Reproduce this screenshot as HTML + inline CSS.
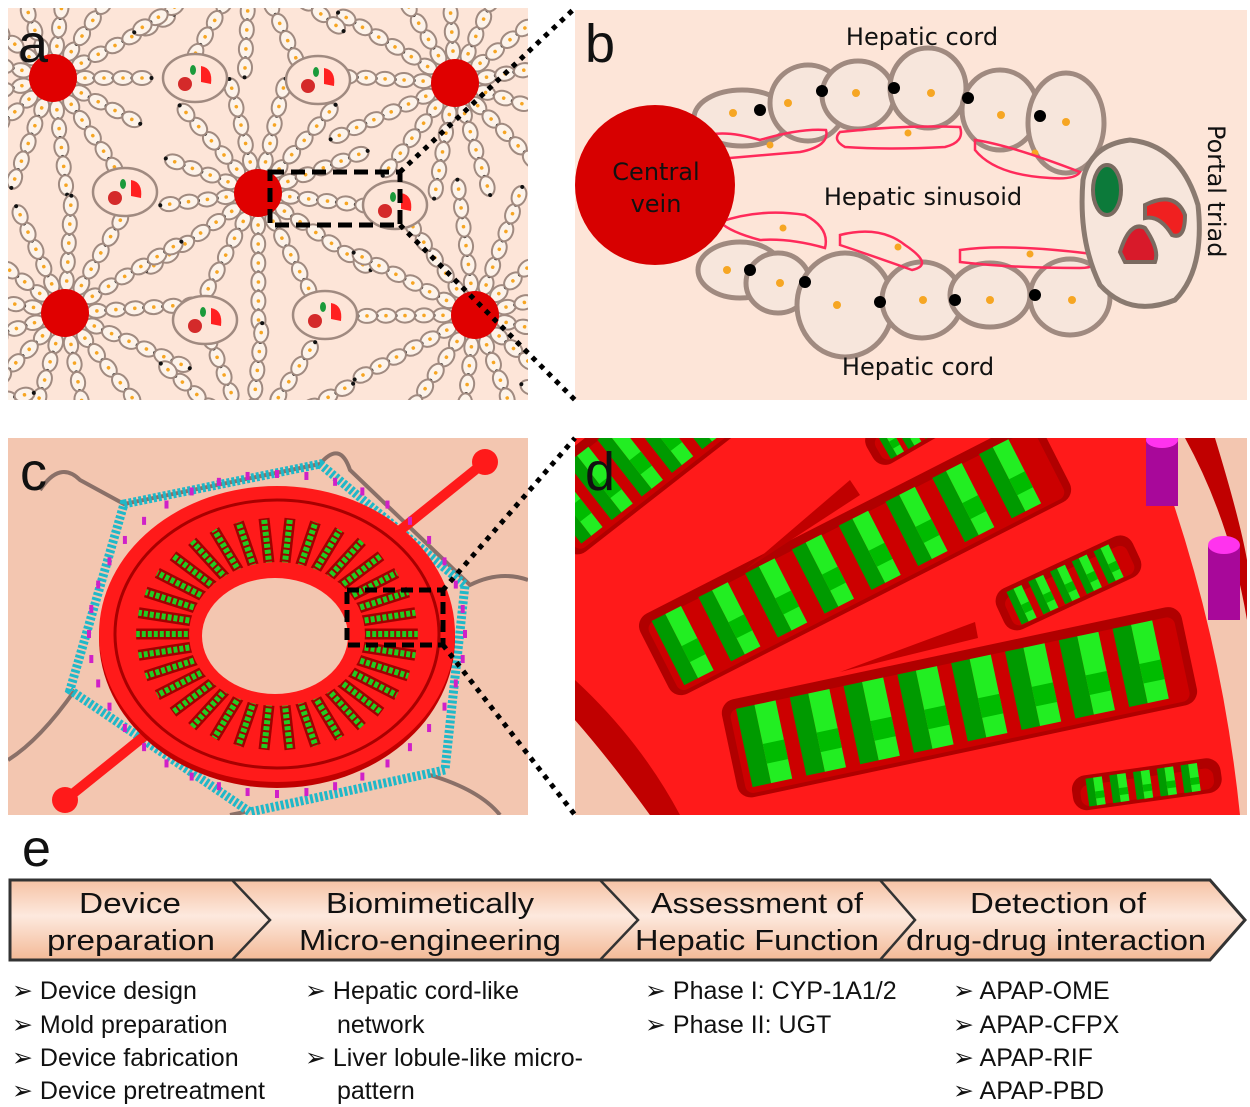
<!DOCTYPE html>
<html><head><meta charset="utf-8">
<style>
html,body{margin:0;padding:0;background:#fff;width:1250px;height:1107px;overflow:hidden}
svg{display:block}
.t{font-family:"Liberation Sans",sans-serif;fill:#111}
.c{font-family:"DejaVu Sans","Liberation Sans",sans-serif;fill:#111}
</style></head><body>
<svg id="s" width="1250" height="1107" viewBox="0 0 1250 1107" xmlns="http://www.w3.org/2000/svg">
<defs>
<linearGradient id="bar" x1="0" y1="0" x2="0" y2="1">
<stop offset="0" stop-color="#f6c2a4"/><stop offset="0.45" stop-color="#fde9de"/><stop offset="1" stop-color="#f3b996"/>
</linearGradient>
<clipPath id="ca"><rect x="8" y="8" width="520" height="392"/></clipPath>
<clipPath id="cc"><rect x="8" y="438" width="520" height="377"/></clipPath>
<clipPath id="cd"><rect x="575" y="438" width="672" height="377"/></clipPath>
</defs>
<rect x="8" y="8" width="520" height="392" fill="#fde5d8"/>
<g id="ga" clip-path="url(#ca)"></g>
<text x="18" y="62" class="t" font-size="54">a</text>
<rect x="270" y="172" width="130" height="53" fill="none" stroke="#000" stroke-width="5" stroke-dasharray="14,7"/>
<rect x="575" y="10" width="672" height="390" fill="#fde5d8"/>
<g fill="#f7e6dc" stroke="#a08a80" stroke-width="5">
<ellipse cx="742" cy="118" rx="48" ry="28"/>
<ellipse cx="808" cy="103" rx="38" ry="38"/>
<ellipse cx="858" cy="95" rx="36" ry="34"/>
<ellipse cx="928" cy="88" rx="38" ry="40"/>
<ellipse cx="1000" cy="110" rx="38" ry="40"/>
<ellipse cx="1066" cy="123" rx="38" ry="50"/>
<ellipse cx="740" cy="270" rx="42" ry="28"/>
<ellipse cx="778" cy="283" rx="32" ry="30"/>
<ellipse cx="845" cy="305" rx="48" ry="52"/>
<ellipse cx="922" cy="300" rx="40" ry="38"/>
<ellipse cx="990" cy="295" rx="40" ry="32"/>
<ellipse cx="1070" cy="297" rx="40" ry="38"/>
</g>
<g fill="#000">
<circle cx="760" cy="110" r="6"/><circle cx="822" cy="91" r="6"/><circle cx="894" cy="88" r="6"/><circle cx="968" cy="98" r="6"/><circle cx="1040" cy="116" r="6"/>
<circle cx="750" cy="270" r="6"/><circle cx="805" cy="282" r="6"/><circle cx="880" cy="302" r="6"/><circle cx="955" cy="300" r="6"/><circle cx="1035" cy="295" r="6"/>
</g>
<g fill="#f6a623">
<circle cx="733" cy="113" r="4"/><circle cx="788" cy="103" r="4"/><circle cx="856" cy="93" r="4"/><circle cx="931" cy="93" r="4"/><circle cx="1001" cy="115" r="4"/><circle cx="1066" cy="122" r="4"/>
<circle cx="727" cy="270" r="4"/><circle cx="780" cy="283" r="4"/><circle cx="837" cy="305" r="4"/><circle cx="923" cy="300" r="4"/><circle cx="990" cy="300" r="4"/><circle cx="1072" cy="300" r="4"/>
<circle cx="770" cy="145" r="3.5"/><circle cx="908" cy="133" r="3.5"/><circle cx="1035" cy="153" r="3.5"/><circle cx="783" cy="228" r="3.5"/><circle cx="898" cy="247" r="3.5"/><circle cx="1030" cy="254" r="3.5"/>
</g>
<g fill="none" stroke="#ff2a5a" stroke-width="2.5">
<path d="M700 138 Q720 128 760 140 Q800 128 826 130 Q830 146 800 152 L730 158 Q710 152 700 138Z"/>
<path d="M840 132 Q900 125 960 127 Q965 142 945 147 Q890 150 845 147 Q832 140 840 132Z"/>
<path d="M975 140 Q1010 145 1080 172 Q1075 180 1050 178 Q995 175 975 150Z"/>
<path d="M720 222 Q760 208 805 215 Q830 228 825 248 Q790 238 760 240 Q730 232 720 222Z"/>
<path d="M840 235 Q880 225 905 245 Q935 265 912 270 Q870 255 840 245Z"/>
<path d="M960 250 Q1010 243 1100 255 Q1100 268 1080 268 Q1010 268 960 262Z"/>
</g>
<circle cx="655" cy="185" r="80" fill="#d70000"/>
<text x="656" y="180" class="c" font-size="24" text-anchor="middle" fill="#200">Central</text>
<text x="656" y="212" class="c" font-size="24" text-anchor="middle" fill="#200">vein</text>
<text x="922" y="45" class="c" font-size="24" text-anchor="middle">Hepatic cord</text>
<text x="923" y="205" class="c" font-size="24" text-anchor="middle">Hepatic sinusoid</text>
<text x="918" y="375" class="c" font-size="24" text-anchor="middle">Hepatic cord</text>
<text transform="translate(1208,125) rotate(90)" class="c" font-size="24">Portal triad</text>
<path d="M1083 180 Q1090 145 1130 140 Q1180 145 1198 205 Q1205 270 1175 300 Q1130 318 1100 285 Q1078 240 1083 180Z" fill="#f7e6dc" stroke="#8a7a70" stroke-width="5"/>
<ellipse cx="1107" cy="190" rx="14" ry="25" fill="#0c7a3a" stroke="#7a6a60" stroke-width="4"/>
<path d="M1145 205 Q1175 190 1185 215 Q1185 240 1172 235 Q1160 215 1145 218Z" fill="#f02020" stroke="#7a6a60" stroke-width="4"/>
<path d="M1120 252 Q1130 220 1145 228 Q1160 250 1155 262 L1125 262Z" fill="#d81a2a" stroke="#7a6a60" stroke-width="4"/>
<text x="585" y="62" class="t" font-size="54">b</text>
<line x1="400" y1="172" x2="575" y2="8" stroke="#000" stroke-width="5" stroke-dasharray="5,6"/>
<line x1="400" y1="225" x2="575" y2="400" stroke="#000" stroke-width="5" stroke-dasharray="5,6"/>
<rect x="8" y="438" width="520" height="377" fill="#f3c6b0"/>
<g id="gc" clip-path="url(#cc)"></g>
<text x="20" y="490" class="t" font-size="54">c</text>
<rect x="347" y="590" width="96" height="55" fill="none" stroke="#000" stroke-width="5" stroke-dasharray="12,6"/>
<g clip-path="url(#cd)">
<rect x="575" y="438" width="672" height="377" fill="#ff1a1a"/>
<path d="M575 720 Q610 760 650 815 L575 815Z" fill="#f3c6b0"/>
<path d="M575 680 Q640 740 680 815 L650 815 Q610 760 575 720Z" fill="#c00000"/>
<path d="M1150 438 L1247 438 L1247 815 L1240 815 Q1220 620 1150 438Z" fill="#f3c6b0"/>
<path d="M1185 438 L1215 438 Q1240 520 1247 560 L1247 620 Q1230 520 1185 438Z" fill="#c00000"/>
<g id="gd"></g>
<rect x="1146" y="438" width="32" height="68" fill="#a8089a"/><ellipse cx="1162" cy="440" rx="16" ry="8" fill="#ff33ee"/>
<rect x="1208" y="545" width="32" height="75" fill="#a8089a"/><ellipse cx="1224" cy="545" rx="16" ry="9" fill="#ff33ee"/>
</g>
<text x="585" y="490" class="t" font-size="54">d</text>
<line x1="443" y1="590" x2="575" y2="438" stroke="#000" stroke-width="5" stroke-dasharray="5,6"/>
<line x1="443" y1="645" x2="575" y2="815" stroke="#000" stroke-width="5" stroke-dasharray="5,6"/>
<text x="22" y="866" class="t" font-size="52">e</text>
<path d="M10 880 L1210 880 L1245 920 L1210 960 L10 960Z" fill="url(#bar)" stroke="#333" stroke-width="3"/>
<g fill="none" stroke="#333" stroke-width="2.5">
<path d="M232 880 L270 920 L232 960"/><path d="M600 880 L638 920 L600 960"/><path d="M880 880 L915 920 L880 960"/>
</g>
<g class="t" font-size="29" text-anchor="middle">
<text x="130" y="913" textLength="102" lengthAdjust="spacingAndGlyphs">Device</text>
<text x="131" y="950" textLength="168" lengthAdjust="spacingAndGlyphs">preparation</text>
<text x="430" y="913" textLength="208" lengthAdjust="spacingAndGlyphs">Biomimetically</text>
<text x="430" y="950" textLength="262" lengthAdjust="spacingAndGlyphs">Micro-engineering</text>
<text x="757" y="913" textLength="212" lengthAdjust="spacingAndGlyphs">Assessment of</text>
<text x="757" y="950" textLength="244" lengthAdjust="spacingAndGlyphs">Hepatic Function</text>
<text x="1058" y="913" textLength="176" lengthAdjust="spacingAndGlyphs">Detection of</text>
<text x="1056" y="950" textLength="300" lengthAdjust="spacingAndGlyphs">drug-drug interaction</text>
</g>
<g class="t" font-size="25">
<text x="12" y="999">➢ Device design</text>
<text x="12" y="1033">➢ Mold preparation</text>
<text x="12" y="1066">➢ Device fabrication</text>
<text x="12" y="1099">➢ Device pretreatment</text>
<text x="305" y="999">➢ Hepatic cord-like</text>
<text x="337" y="1033">network</text>
<text x="305" y="1066">➢ Liver lobule-like micro-</text>
<text x="337" y="1099">pattern</text>
<text x="645" y="999">➢ Phase I: CYP-1A1/2</text>
<text x="645" y="1033">➢ Phase II:  UGT</text>
<text x="953" y="999">➢ APAP-OME</text>
<text x="953" y="1033">➢ APAP-CFPX</text>
<text x="953" y="1066">➢ APAP-RIF</text>
<text x="953" y="1099">➢ APAP-PBD</text>
</g>
</svg>
<script>
var NS="http://www.w3.org/2000/svg";
function el(p,n,a){var e=document.createElementNS(NS,n);for(var k in a)e.setAttribute(k,a[k]);p.appendChild(e);return e;}
var ga=document.getElementById('ga');
var centers=[[53,78],[455,83],[258,193],[65,313],[475,315],[-120,200],[660,200],[250,-40],[250,440],[-100,420],[650,430]];
centers.forEach(function(c,ci){
 for(var i=0;i<13;i++){
  var ang=i*Math.PI*2/13+ci*0.3;
  var len=105+((i*37+ci*13)%35);
  for(var d=32;d<len;d+=19){
   var x=c[0]+Math.cos(ang)*d,y=c[1]+Math.sin(ang)*d;
   var g=el(ga,'g',{transform:'translate('+x.toFixed(1)+','+y.toFixed(1)+') rotate('+(ang*180/Math.PI).toFixed(1)+')'});
   el(g,'ellipse',{rx:10,ry:7,fill:'#fdf3ea',stroke:'#a08a80','stroke-width':2});
   el(g,'circle',{r:1.8,fill:'#f6a623'});
   el(g,'circle',{cx:9.5,r:2,fill:'#111'});
  }
 }
});
[[195,78],[318,80],[125,192],[395,205],[205,320],[325,315]].forEach(function(p){
 el(ga,'ellipse',{cx:p[0],cy:p[1],rx:32,ry:24,fill:'#fde5d8',stroke:'#a08a80','stroke-width':2.5});
 el(ga,'circle',{cx:p[0]-10,cy:p[1]+6,r:7,fill:'#d42a2a'});
 el(ga,'path',{d:'M'+(p[0]+6)+' '+(p[1]-12)+' q12 2 10 18 l-10 -2z',fill:'#ff2020'});
 el(ga,'ellipse',{cx:p[0]-2,cy:p[1]-8,rx:3,ry:5,fill:'#1a9a3a'});
});
centers.slice(0,5).forEach(function(c){el(ga,'circle',{cx:c[0],cy:c[1],r:24,fill:'#e00000'});});
var gc=document.getElementById('gc');
el(gc,'path',{d:'M40 490 Q60 460 80 480 L124 504 L320 464 Q340 440 350 470 L470 585 Q500 570 528 580 M8 760 Q40 740 75 690 M430 775 Q480 790 500 815 M230 815 L245 812',fill:'none',stroke:'#8a7068','stroke-width':4});
el(gc,'polygon',{points:'124,504 320,464 465,585 445,770 250,812 70,690',fill:'none',stroke:'#20b8c8','stroke-width':9,'stroke-dasharray':'3,2'});
el(gc,'line',{x1:485,y1:462,x2:65,y2:800,stroke:'#ff1a1a','stroke-width':10});
el(gc,'circle',{cx:485,cy:462,r:13,fill:'#ff1a1a'});
el(gc,'circle',{cx:65,cy:800,r:13,fill:'#ff1a1a'});
var cx=277,cy=634;
for(var i=0;i<40;i++){var a=i*Math.PI*2/40;el(gc,'rect',{x:cx+Math.cos(a)*188-2,y:cy+Math.sin(a)*160-4,width:4,height:8,fill:'#d020c8'});}
el(gc,'ellipse',{cx:cx,cy:cy+4,rx:178,ry:150,fill:'#c00000'});
el(gc,'ellipse',{cx:cx,cy:cy,rx:178,ry:148,fill:'#ff1a1a'});
el(gc,'ellipse',{cx:cx,cy:cy,rx:162,ry:134,fill:'none',stroke:'#a80000','stroke-width':3});
for(var i=0;i<34;i++){
 var a=i*Math.PI*2/34, ca=Math.cos(a), sa=Math.sin(a);
 var x1=cx+ca*160*0.52, y1=cy+sa*132*0.52, x2=cx+ca*160*0.88, y2=cy+sa*132*0.88;
 el(gc,'line',{x1:x1,y1:y1,x2:x2,y2:y2,stroke:'#a00000','stroke-width':11});
 el(gc,'line',{x1:x1,y1:y1,x2:x2,y2:y2,stroke:'#22cc22','stroke-width':6,'stroke-dasharray':'4,2'});
}
el(gc,'ellipse',{cx:cx,cy:cy,rx:88,ry:72,fill:'#ff1a1a'});
el(gc,'ellipse',{cx:cx-2,cy:cy+2,rx:73,ry:58,fill:'#f3c6b0'});
var gd=document.getElementById('gd');
function slot(x,y,len,h,ang,n,sz){
 var g=el(gd,'g',{transform:'translate('+x+','+y+') rotate('+ang+')'});
 el(g,'rect',{x:0,y:-h,width:len,height:h,rx:14,fill:'#b00000'});
 el(g,'rect',{x:8,y:-h+10,width:len-16,height:h-14,rx:8,fill:'#cc0000'});
 var step=(len-30)/n;
 for(var k=0;k<n;k++){
  var bx=15+k*step;
  el(g,'rect',{x:bx,y:-h*0.9,width:sz*0.35,height:h*0.8,fill:'#009a00'});
  el(g,'rect',{x:bx+sz*0.35,y:-h*0.9,width:sz*0.4,height:h*0.8,fill:'#22ee22'});
  el(g,'rect',{x:bx+sz*0.35,y:-h*0.5,width:sz*0.4,height:h*0.2,fill:'#00bb00'});
 }
}
slot(575,560,260,90,-38,6,36);
slot(675,700,450,90,-27,8,44);
slot(740,800,470,100,-12,8,54);
slot(1010,635,150,45,-25,5,22);
slot(1075,812,150,35,-8,5,22);
slot(880,470,90,40,-30,3,20);
el(gd,'path',{d:'M745 570 L850 480 L860 495 Z',fill:'#c00000'});
el(gd,'path',{d:'M840 672 L975 622 L978 638 Z',fill:'#c00000'});
</script>
</body></html>
